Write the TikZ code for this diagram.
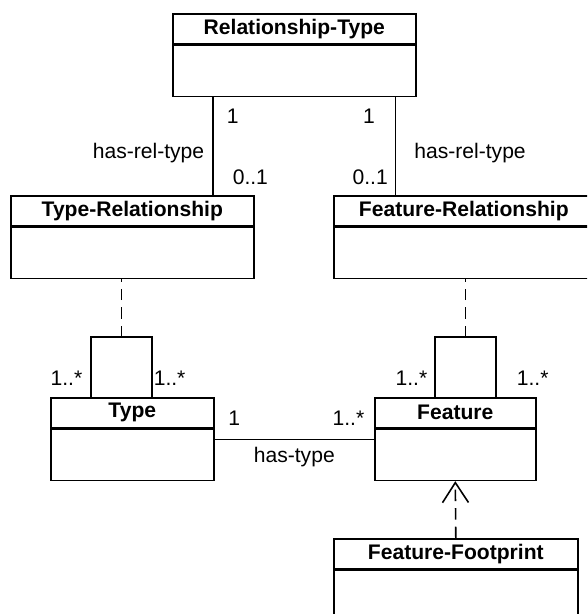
\documentclass[tikz,border=0pt]{standalone}
\usepackage{fontspec}
\setmainfont{Liberation Sans}
\usetikzlibrary{positioning,calc,arrows.meta}
\tikzstyle{classname} = [draw, line width=0.9pt, inner sep=0pt, anchor=north west, minimum height=0.6cm, font=\fontsize{12}{14}\selectfont\bfseries]
\tikzstyle{classbody} = [draw, line width=0.9pt, inner sep=0pt, minimum height=1.02cm]
\tikzstyle{line} = [draw, line width=0.9pt]
\tikzstyle{dashline} = [line, dash pattern=on 6.5pt off 4pt]
\tikzstyle{lbl} = [inner sep=0pt, font=\fontsize{12}{14}\selectfont]

\begin{document}
\begin{tikzpicture}
        \useasboundingbox (0,0) rectangle (11.74,-12.28);
        \clip (0,0) rectangle (11.74,-12.28);

        \node[classname, minimum width=4.86cm] (reltype) at (3.44,-0.26) {Relationship-Type};
        \node[classbody, minimum width=4.86cm, below=0pt of reltype] (reltype-body) {};

        \node[classname, minimum width=4.86cm] (typerel) at (0.20,-3.90) {Type-Relationship};
        \node[classbody, minimum width=4.86cm, below=0pt of typerel] (typerel-body) {};

        \node[classname, minimum width=5.20cm] (featrel) at (6.66,-3.90) {Feature-Relationship};
        \node[classbody, minimum width=5.20cm, below=0pt of featrel] (featrel-body) {};

        \node[classname, minimum width=3.26cm] (type) at (1.00,-7.94) {Type};
        \node[classbody, minimum width=3.26cm, below=0pt of type] (type-body) {};

        \node[classname, minimum width=3.22cm] (feature) at (7.48,-7.94) {Feature};
        \node[classbody, minimum width=3.22cm, below=0pt of feature] (feature-body) {};

        \node[classname, minimum width=4.88cm] (footprint) at (6.66,-10.76) {Feature-Footprint};
        \node[classbody, minimum width=4.88cm, below=0pt of footprint] (footprint-body) {};

        \draw[line] ([xshift=0.82cm]reltype-body.south west) coordinate (rl) -- (rl |- typerel.north)
            node[lbl, pos=0.2, anchor=west, xshift=0.26cm] {1}
            node[lbl, pos=0.57, anchor=east, xshift=-0.16cm] {has-rel-type}
            node[lbl, pos=0.82, anchor=west, xshift=0.38cm] {0..1};

        \draw[line] ([xshift=-0.42cm]reltype-body.south east) coordinate (rr) -- (rr |- featrel.north)
            node[lbl, pos=0.2, anchor=east, xshift=-0.40cm] {1}
            node[lbl, pos=0.57, anchor=west, xshift=0.36cm] {has-rel-type}
            node[lbl, pos=0.82, anchor=east, xshift=-0.14cm] {0..1};

        \draw[line] ([xshift=0.82cm]type.north west) coordinate (tl)
            -- node[lbl, pos=0.32, anchor=east, xshift=-0.16cm] {1..*} ++(0,1.2) coordinate (tt)
            -- ++(1.22,0) coordinate (tr)
            -- node[lbl, pos=0.68, anchor=west, xshift=0.02cm] {1..*} (tr |- type.north);
        \coordinate (tm) at ($(tt)!0.5!(tr)$);
        \draw[dashline] (tm) -- (tm |- typerel-body.south);

        \draw[line] ([xshift=1.22cm]feature.north west) coordinate (fl)
            -- node[lbl, pos=0.32, anchor=east, xshift=-0.14cm] {1..*} ++(0,1.2) coordinate (ft)
            -- ++(1.22,0) coordinate (fr)
            -- node[lbl, pos=0.68, anchor=west, xshift=0.40cm] {1..*} (fr |- feature.north);
        \coordinate (fm) at ($(ft)!0.5!(fr)$);
        \draw[dashline] (fm) -- (fm |- featrel-body.south);

        \draw[line] ([yshift=-0.22cm]type.south east) coordinate (ht) -- (ht -| feature-body.west)
            node[lbl, pos=0, anchor=south west, xshift=0.26cm, yshift=0.27cm] {1}
            node[lbl, pos=1, anchor=south east, xshift=-0.18cm, yshift=0.26cm] {1..*}
            node[lbl, midway, anchor=north, yshift=-0.14cm] {has-type};

        \draw[dashline, -{Straight Barb[length=0.4cm, width=0.52cm]}] (footprint.north) -- (feature-body.south);
    \end{tikzpicture}
\end{document}
